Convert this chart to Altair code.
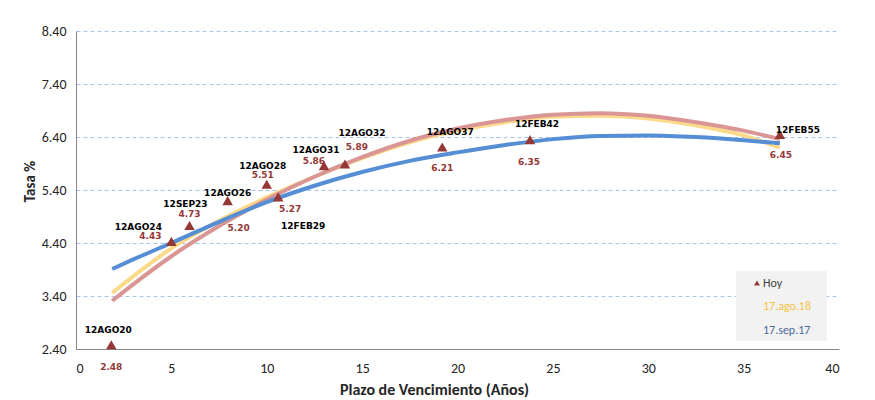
import altair as alt
import pandas as pd

# ---- data ----
bond_names = ["12AGO20", "12AGO24", "12SEP23", "12AGO26", "12AGO28", "12FEB29",
              "12AGO31", "12AGO32", "12AGO37", "12FEB42", "12FEB55"]
bond_years = [1.85, 5.0, 5.95, 7.95, 10.0, 10.6, 13.0, 14.1, 19.2, 23.8, 36.9]
bond_rates = [2.48, 4.43, 4.73, 5.20, 5.51, 5.27, 5.86, 5.89, 6.21, 6.35, 6.45]

curve_years = [1.9, 3, 5, 7.5, 10, 12.5, 15, 17.5, 20, 22.5, 25, 27.5, 30, 32.5, 35, 36.9]
hoy_curve = [3.31, 3.62, 4.15, 4.72, 5.22, 5.65, 6.02, 6.33, 6.56, 6.72, 6.82, 6.85, 6.80, 6.68, 6.52, 6.36]
ago18_curve = [3.46, 3.77, 4.30, 4.82, 5.26, 5.65, 6.00, 6.30, 6.52, 6.68, 6.78, 6.80, 6.75, 6.62, 6.43, 6.20]
sep17_curve = [3.91, 4.09, 4.40, 4.80, 5.17, 5.48, 5.74, 5.95, 6.11, 6.25, 6.36, 6.42, 6.43, 6.40, 6.34, 6.28]

# label placement (name dx, name dy, value dx, value dy) in pixels
label_offsets = {
    "12AGO20": (-3, -15, 0, 22),
    "12AGO24": (-33, -14, -21, -5),
    "12SEP23": (-4, -22, 0, -12),
    "12AGO26": (0, -8, 11, 27),
    "12AGO28": (-4, -18, -4, -9),
    "12FEB29": (25, 29, 12, 12),
    "12AGO31": (-8, -16, -10, -5),
    "12AGO32": (17, -31, 12, -17),
    "12AGO37": (8, -15, 0, 21),
    "12FEB42": (7, -16, -1, 22),
    "12FEB55": (18, -4, 1, 21),
}

bonds = pd.DataFrame({"name": bond_names, "plazo": bond_years, "tasa": bond_rates})
bonds["val"] = [f"{v:.2f}" for v in bond_rates]

curves = pd.concat([
    pd.DataFrame({"serie": s, "plazo": curve_years, "tasa": vals})
    for s, vals in [("Hoy", hoy_curve), ("17.ago.18", ago18_curve), ("17.sep.17", sep17_curve)]
])

FONT = "Carlito, Liberation Sans, Arial, sans-serif"
LBL_FONT = "DejaVu Sans, Verdana, sans-serif"
DARK_RED = "#953735"

x_enc = alt.X("plazo:Q",
              scale=alt.Scale(domain=[0, 40], nice=False, zero=False),
              axis=alt.Axis(values=list(range(0, 41, 5)), title="Plazo de Vencimiento  (Años)",
                            grid=False, ticks=False, labelPadding=12, labelFontSize=14,
                            labelFont=FONT, labelColor="#262626",
                            titleFont=FONT, titleFontSize=16, titleFontWeight="bold",
                            titleColor="#262626", titleX=358, titleY=40, titleBaseline="middle",
                            titleAlign="center"))
y_enc = alt.Y("tasa:Q",
              scale=alt.Scale(domain=[2.4, 8.4], nice=False, zero=False),
              axis=alt.Axis(values=[2.4, 3.4, 4.4, 5.4, 6.4, 7.4, 8.4], format=".2f",
                            title="Tasa %", grid=True, gridDash=[4, 3], gridColor="#a9c4ec",
                            gridWidth=1, ticks=False, labelPadding=10, labelFontSize=14,
                            labelFont=FONT, labelColor="#262626",
                            titleFont=FONT, titleFontSize=15, titleFontWeight="bold",
                            titleColor="#262626", titleX=-47, titleY=150, titleAngle=-90,
                            titleAlign="center", titleBaseline="middle"))

line_colors = {"17.ago.18": "#fdd98a", "Hoy": "#d99694", "17.sep.17": "#558ed5"}
layers = []
for s in ["17.ago.18", "Hoy", "17.sep.17"]:
    layers.append(
        alt.Chart(curves).transform_filter(alt.datum.serie == s)
        .mark_line(color=line_colors[s], strokeWidth=4, interpolate="monotone")
        .encode(x=x_enc, y=y_enc)
    )

layers.append(
    alt.Chart(bonds).mark_point(shape="triangle-up", filled=True, color=DARK_RED,
                                size=110, opacity=1)
    .encode(x=x_enc, y=y_enc)
)

for n in bond_names:
    ndx, ndy, vdx, vdy = label_offsets[n]
    base = alt.Chart(bonds).transform_filter(alt.datum.name == n)
    layers.append(
        base.mark_text(dx=ndx, dy=ndy, font=LBL_FONT, fontSize=9, fontWeight="bold",
                       color="#000000", baseline="middle", align="center")
        .encode(x=x_enc, y=y_enc, text="name:N")
    )
    layers.append(
        base.mark_text(dx=vdx, dy=vdy, font=LBL_FONT, fontSize=9, fontWeight="bold",
                       color=DARK_RED, baseline="middle", align="center")
        .encode(x=x_enc, y=y_enc, text="val:N")
    )

# ---- legend box ----
one = alt.Data(values=[{"k": 1}])
layers.append(
    alt.Chart(one).mark_rect(color="#f2f2f2")
    .encode(x=alt.value(660), x2=alt.value(751), y=alt.value(240), y2=alt.value(310))
)
layers.append(
    alt.Chart(one).mark_point(shape="triangle-up", filled=True, color=DARK_RED, size=35, opacity=1)
    .encode(x=alt.value(681), y=alt.value(252))
)
for txt, yy, col in [("Hoy", 252, "#404040"), ("17.ago.18", 275, "#f5c242"), ("17.sep.17", 299, "#4a6c9b")]:
    layers.append(
        alt.Chart(one).mark_text(text=txt, font=FONT, fontSize=12, color=col,
                                 align="left", baseline="middle")
        .encode(x=alt.value(687), y=alt.value(yy))
    )

chart = (
    alt.layer(*layers)
    .properties(width=763, height=318,
                autosize=alt.AutoSizeParams(type="none"),
                padding={"left": 68, "top": 23, "right": 20, "bottom": 51},
                background="white")
    .configure_view(stroke=None)
    .configure_axis(domainColor="#868686", domainWidth=1)
)

chart.save("out.html", embed_options={"renderer": "svg", "actions": False})
